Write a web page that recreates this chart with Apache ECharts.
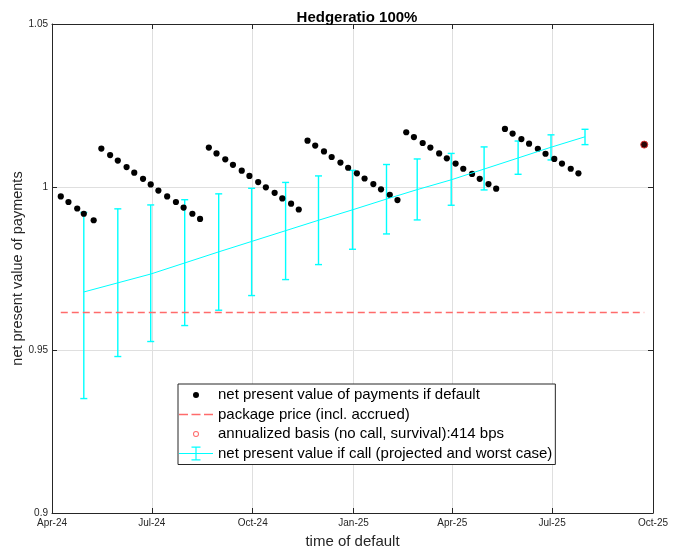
<!DOCTYPE html>
<html>
<head>
<meta charset="utf-8">
<script src="https://cdn.jsdelivr.net/npm/echarts@6/dist/echarts.min.js"></script>
<style>html,body{margin:0;padding:0;background:#fff}#c{width:673px;height:551px}</style>
</head>
<body>
<div id="c"></div>
<script>
// ---- data ----
const dotDates = [
  '2024-04-09','2024-04-16','2024-04-24','2024-04-30','2024-05-09',
  '2024-05-16','2024-05-24','2024-05-31','2024-06-08','2024-06-15','2024-06-23','2024-06-30','2024-07-07','2024-07-15','2024-07-23','2024-07-30','2024-08-07','2024-08-14',
  '2024-08-22','2024-08-29','2024-09-06','2024-09-13','2024-09-21','2024-09-28','2024-10-06','2024-10-13','2024-10-21','2024-10-28','2024-11-05','2024-11-12',
  '2024-11-20','2024-11-27','2024-12-05','2024-12-12','2024-12-20','2024-12-27','2025-01-04','2025-01-11','2025-01-19','2025-01-26','2025-02-03','2025-02-10',
  '2025-02-18','2025-02-25','2025-03-05','2025-03-12','2025-03-20','2025-03-27','2025-04-04','2025-04-11','2025-04-19','2025-04-26','2025-05-04','2025-05-11',
  '2025-05-19','2025-05-26','2025-06-03','2025-06-10','2025-06-18','2025-06-25','2025-07-03','2025-07-10','2025-07-18','2025-07-25'
];
const dotValues = [
  0.9971, 0.9954, 0.9934, 0.9918, 0.9898,
  1.0118, 1.0098, 1.0081, 1.0061, 1.0044, 1.0025, 1.0008, 0.9989, 0.9971, 0.9954, 0.9937, 0.9918, 0.9902,
  1.0121, 1.0103, 1.0085, 1.0068, 1.0050, 1.0034, 1.0015, 0.9999, 0.9982, 0.9965, 0.9949, 0.9931,
  1.0142, 1.0127, 1.0109, 1.0092, 1.0075, 1.0059, 1.0042, 1.0026, 1.0009, 0.9993, 0.9976, 0.9960,
  1.0168, 1.0153, 1.0135, 1.0121, 1.0103, 1.0088, 1.0072, 1.0056, 1.0040, 1.0025, 1.0009, 0.9995,
  1.0178, 1.0164, 1.0147, 1.0133, 1.0117, 1.0102, 1.0086, 1.0072, 1.0056, 1.0042
];
const priceDates = ['2024-04-09', '2025-09-23'];
const priceValues = [0.9615, 0.9615];
const basisDates = ['2025-09-23'];
const basisValues = [1.0130];
const callDates = ['2024-04-30','2024-05-31','2024-06-30','2024-07-31','2024-08-31','2024-09-30','2024-10-31','2024-11-30','2024-12-31','2025-01-31','2025-02-28','2025-03-31','2025-04-30','2025-05-31','2025-06-30','2025-07-31'];
const callProjected = [0.9678, 0.9706, 0.9733, 0.9767, 0.9801, 0.9833, 0.9866, 0.9898, 0.9930, 0.9963, 0.9992, 1.0022, 1.0055, 1.0089, 1.0122, 1.0154];
const callUpper     = [0.9922, 0.9933, 0.9945, 0.9961, 0.9979, 0.9996, 1.0014, 1.0034, 1.0051, 1.0069, 1.0086, 1.0103, 1.0123, 1.0141, 1.0160, 1.0177];
const callWorst     = [0.9351, 0.9480, 0.9526, 0.9575, 0.9622, 0.9667, 0.9716, 0.9762, 0.9809, 0.9856, 0.9899, 0.9944, 0.9991, 1.0039, 1.0083, 1.0130];
const xMin = '2024-04-01', xMax = '2025-10-01';
const yMin = 0.9, yMax = 1.05, yStep = 0.05;
const monthNames = ['Jan','Feb','Mar','Apr','May','Jun','Jul','Aug','Sep','Oct','Nov','Dec'];
const titleText = 'Hedgeratio 100%';
const xName = 'time of default';
const yName = 'net present value of payments';
const names = ['net present value of payments if default', 'package price (incl. accrued)', 'annualized basis (no call, survival):414 bps', 'net present value if call (projected and worst case)'];

// ---- chart ----
const T = s => Date.parse(s);
const FONT = 'Liberation Sans, Arial, Helvetica, sans-serif';
const AX = '#262626';
const GRID = '#dfdfdf';
const CYAN = '#00ffff';
const RED = '#ff6b6b';

const fmtDate = v => { const d = new Date(v); return monthNames[d.getUTCMonth()] + '-' + String(d.getUTCFullYear()).slice(2); };

const box = 'M0,0L34,0L34,0.001Z M0,14L34,14L34,13.999Z ';
const iconDot = 'path://' + box + 'M14,7A3,3,0,1,1,20,7A3,3,0,1,1,14,7Z';
const iconDash = 'path://' + box + 'M0,6.2L9,6.2L9,7.8L0,7.8Z M12.5,6.2L21.5,6.2L21.5,7.8L12.5,7.8Z M25,6.2L34,6.2L34,7.8L25,7.8Z';
const iconRing = 'path://' + box + 'M14,7A3,3,0,1,1,20,7A3,3,0,1,1,14,7Z M15,7A2,2,0,1,0,19,7A2,2,0,1,0,15,7Z';
const iconErr = 'path://' + box + 'M0,6.5L34,6.5L34,7.5L0,7.5Z M16.4,0L17.6,0L17.6,14L16.4,14Z M12.5,0L21.5,0L21.5,1.2L12.5,1.2Z M12.5,12.8L21.5,12.8L21.5,14L12.5,14Z';

const chart = echarts.init(document.getElementById('c'), null, {renderer: 'canvas'});
const xBase = {
  type: 'time', min: T(xMin), max: T(xMax), splitNumber: 6,
  axisLine: {show: true, lineStyle: {color: AX, width: 1}},
  axisTick: {show: true, inside: true, length: 5, lineStyle: {color: AX}},
};
const yBase = {
  type: 'value', min: yMin, max: yMax, interval: yStep,
  axisLine: {show: true, lineStyle: {color: AX, width: 1}},
  axisTick: {show: true, inside: true, length: 5, lineStyle: {color: AX}},
};
chart.setOption({
  animation: false,
  useUTC: true,
  backgroundColor: '#fff',
  textStyle: {fontFamily: FONT},
  title: {
    text: titleText, left: 352, top: 5, textAlign: 'center',
    textStyle: {fontFamily: FONT, fontSize: 15, fontWeight: 'bold', color: '#000'}
  },
  grid: {left: 52, right: 20, top: 24, bottom: 38, containLabel: false, outerBoundsMode: 'none'},
  xAxis: [
    Object.assign({}, xBase, {
      position: 'bottom',
      axisLabel: {formatter: fmtDate, fontSize: 10, color: AX, margin: 5, fontFamily: FONT, showMinLabel: true, showMaxLabel: true, hideOverlap: false},
      splitLine: {show: true, lineStyle: {color: GRID, width: 1}},
      name: xName, nameLocation: 'middle', nameGap: 21, nameMoveOverlap: false,
      nameTextStyle: {fontSize: 15, color: AX, fontFamily: FONT}
    }),
    Object.assign({}, xBase, {
      position: 'top', axisLabel: {show: false}, splitLine: {show: false}
    })
  ],
  yAxis: [
    Object.assign({}, yBase, {
      position: 'left',
      axisLabel: {fontSize: 10, color: AX, margin: 4, fontFamily: FONT},
      splitLine: {show: true, lineStyle: {color: GRID, width: 1}},
      name: yName, nameLocation: 'middle', nameGap: 27, nameMoveOverlap: false,
      nameTextStyle: {fontSize: 14.5, color: AX, fontFamily: FONT}
    }),
    Object.assign({}, yBase, {
      position: 'right', axisLabel: {show: false}, splitLine: {show: false}
    })
  ],
  legend: {
    orient: 'vertical', left: 178, top: 384,
    padding: [3.5, 3, 3.5, 1], itemGap: 4.5, itemWidth: 34, itemHeight: 14,
    borderColor: AX, borderWidth: 1, backgroundColor: '#fff',
    selectedMode: false,
    textStyle: {fontSize: 15, color: '#000', fontFamily: FONT, lineHeight: 15},
    data: [
      {name: names[0], icon: iconDot, itemStyle: {color: '#000', borderWidth: 0, opacity: 1}},
      {name: names[1], icon: iconDash, itemStyle: {color: RED, borderWidth: 0}},
      {name: names[2], icon: iconRing, itemStyle: {color: RED, borderWidth: 0}},
      {name: names[3], icon: iconErr, itemStyle: {color: CYAN, borderWidth: 0}}
    ]
  },
  series: [
    {
      name: names[0], type: 'scatter', symbol: 'circle', symbolSize: 6.2,
      itemStyle: {color: '#000', opacity: 1},
      data: dotDates.map((d, i) => [T(d), dotValues[i]])
    },
    {
      name: names[1], type: 'line', showSymbol: false, symbol: 'none',
      color: RED,
      lineStyle: {color: RED, width: 1.5, type: [7, 4]},
      data: priceDates.map((d, i) => [T(d), priceValues[i]])
    },
    {
      name: names[2], type: 'scatter', symbol: 'circle', symbolSize: 7,
      itemStyle: {color: '#2a0505', borderColor: '#d83030', borderWidth: 1, opacity: 1},
      data: basisDates.map((d, i) => [T(d), basisValues[i]])
    },
    {
      name: names[3], type: 'line', showSymbol: false, symbol: 'none',
      color: CYAN,
      lineStyle: {color: CYAN, width: 1},
      data: callDates.map((d, i) => [T(d), callProjected[i]])
    },
    {
      name: names[3], type: 'custom', color: CYAN,
      encode: {x: 0, y: [1, 2]},
      renderItem: function (params, api) {
        const x = api.value(0);
        const lo = api.coord([x, api.value(1)]);
        const hi = api.coord([x, api.value(2)]);
        const cw = 3.5;
        const st = {stroke: CYAN, lineWidth: 1.4, fill: null};
        return {type: 'group', children: [
          {type: 'line', shape: {x1: lo[0], y1: lo[1], x2: hi[0], y2: hi[1]}, style: st},
          {type: 'line', shape: {x1: lo[0] - cw, y1: lo[1], x2: lo[0] + cw, y2: lo[1]}, style: st},
          {type: 'line', shape: {x1: hi[0] - cw, y1: hi[1], x2: hi[0] + cw, y2: hi[1]}, style: st}
        ]};
      },
      data: callDates.map((d, i) => [T(d), callWorst[i], callUpper[i]])
    }
  ]
});
</script>
</body>
</html>
